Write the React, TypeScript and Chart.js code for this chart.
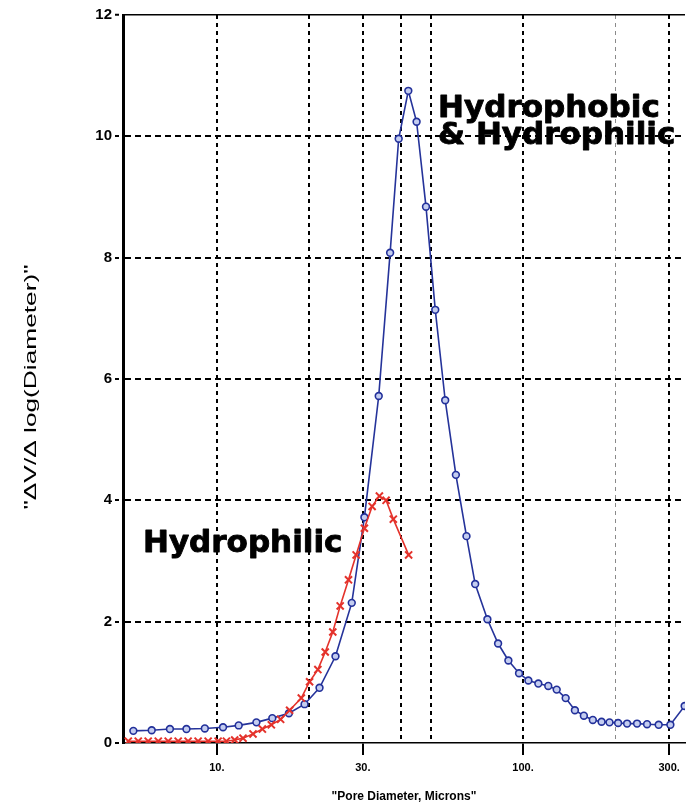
import { useEffect, useRef } from 'react';
import { Chart, registerables } from 'chart.js';

Chart.register(...registerables);

// Pore size distribution, both treatments
const blueDiameter = [
  5.34, 6.13, 7.03, 7.96, 9.14, 10.48, 11.79, 13.47, 15.18, 17.2, 19.35, 21.65, 24.41, 27.59,
  30.34, 33.79, 36.81, 39.26, 42.21, 44.92, 48.21, 51.69, 55.7, 60.36, 65.37, 69.78, 76.5, 82.9,
  89.58, 97.05, 104.1, 112.2, 120.9, 128.8, 137.8, 147.7, 158.0, 169.0, 180.5, 191.6, 204.4,
  218.7, 235.7, 254.1, 277.3, 302.8, 337.1,
];
const blueValue = [
  0.2, 0.21, 0.23, 0.23, 0.24, 0.26, 0.29, 0.34, 0.41, 0.49, 0.64, 0.91, 1.43, 2.31,
  3.72, 5.72, 8.08, 9.96, 10.75, 10.24, 8.84, 7.14, 5.65, 4.42, 3.41, 2.62, 2.04, 1.64,
  1.36, 1.15, 1.03, 0.98, 0.94, 0.88, 0.74, 0.54, 0.45, 0.38, 0.35, 0.34, 0.33,
  0.32, 0.32, 0.31, 0.3, 0.3, 0.61,
];

// Hydrophilic-only distribution
const redDiameter = [
  5.14, 5.54, 5.97, 6.44, 6.94, 7.48, 8.06, 8.69, 9.37, 10.1, 10.75, 11.44, 12.18, 13.13,
  14.09, 15.07, 16.16, 17.29, 18.88, 20.09, 21.38, 22.6, 23.92, 25.29, 26.92, 28.51, 30.34,
  32.15, 33.96, 35.71, 37.71, 42.31,
];
const redValue = [
  0.03, 0.03, 0.03, 0.03, 0.03, 0.03, 0.03, 0.03, 0.03, 0.03, 0.03, 0.05, 0.08, 0.15,
  0.23, 0.3, 0.39, 0.54, 0.74, 1.01, 1.21, 1.5, 1.83, 2.26, 2.69, 3.1, 3.54,
  3.9, 4.07, 4.0, 3.69, 3.1,
];

const xGridValues = [10, 20, 30, 40, 50, 100, 200, 300];
const xLabelValues = [10, 30, 100, 300];
const yTickValues = [0, 2, 4, 6, 8, 10, 12];

const xTitle = '"Pore Diameter, Microns"';
const yTitle = '"\u0394V/\u0394 log(Diameter)"';

// Curve captions, anchored at (diameter, value) of the text baseline start
const captionText = ['Hydrophobic', '& Hydrophilic', 'Hydrophilic'];
const captionX = [52.8, 52.8, 5.74];
const captionY = [10.32, 9.87, 3.15];

const toPoints = (xs: number[], ys: number[]) => xs.map((x, i) => ({ x, y: ys[i] }));

const whiteBackground = {
  id: 'whiteBackground',
  beforeDraw(chart: any) {
    const { ctx, width, height } = chart;
    ctx.save();
    ctx.fillStyle = '#ffffff';
    ctx.fillRect(0, 0, width, height);
    ctx.restore();
  },
};

const captions = {
  id: 'captions',
  afterDatasetsDraw(chart: any) {
    const { ctx, scales } = chart;
    ctx.save();
    ctx.fillStyle = '#000000';
    ctx.strokeStyle = '#000000';
    ctx.lineWidth = 0.9;
    ctx.lineJoin = 'round';
    ctx.font = 'bold 31px "DejaVu Sans"';
    ctx.textAlign = 'left';
    ctx.textBaseline = 'alphabetic';
    captionText.forEach((t, i) => {
      const px = scales.x.getPixelForValue(captionX[i]);
      const py = scales.y.getPixelForValue(captionY[i]);
      ctx.fillText(t, px, py);
      ctx.strokeText(t, px, py);
    });
    ctx.restore();
  },
};

const yAxisTitle = {
  id: 'yAxisTitle',
  afterDraw(chart: any) {
    const { ctx, chartArea } = chart;
    ctx.save();
    ctx.translate(chartArea.left - 92, (chartArea.top + chartArea.bottom) / 2 + 8);
    ctx.rotate(-Math.PI / 2);
    ctx.font = '17px "Liberation Sans"';
    const w = ctx.measureText(yTitle).width;
    ctx.scale(245 / w, 1);
    ctx.fillStyle = '#000000';
    ctx.textAlign = 'center';
    ctx.textBaseline = 'middle';
    ctx.fillText(yTitle, 0, 0);
    ctx.restore();
  },
};

export default function App() {
  const canvasRef = useRef<HTMLCanvasElement | null>(null);

  useEffect(() => {
    document.body.style.margin = '0';
    const canvas = canvasRef.current;
    if (!canvas) return;

    const chart = new Chart(canvas, {
      type: 'scatter',
      data: {
        datasets: [
          {
            label: 'Hydrophilic',
            data: toPoints(redDiameter, redValue),
            showLine: true,
            borderColor: '#e4322b',
            borderWidth: 1.6,
            pointStyle: 'crossRot',
            pointRadius: 5,
            pointBorderWidth: 2,
            pointBorderColor: '#e4322b',
            pointBackgroundColor: '#e4322b',
            tension: 0,
          },
          {
            label: 'Hydrophobic & Hydrophilic',
            data: toPoints(blueDiameter, blueValue),
            showLine: true,
            borderColor: '#25339a',
            borderWidth: 1.6,
            pointStyle: 'circle',
            pointRadius: 3.4,
            pointBorderWidth: 1.6,
            pointBorderColor: '#22309a',
            pointBackgroundColor: '#c4cdf0',
            tension: 0,
          },
        ],
      },
      options: {
        responsive: false,
        animation: false,
        layout: { padding: { top: 15, right: 6, left: 0, bottom: 0 } },
        plugins: {
          legend: { display: false },
          tooltip: { enabled: false },
        },
        scales: {
          x: {
            type: 'logarithmic',
            min: 4.94,
            max: 338,
            afterBuildTicks: (s: any) => {
              s.ticks = xGridValues.map((v) => ({ value: v }));
            },
            afterFit: (s: any) => {
              s.height = 64;
            },
            ticks: {
              autoSkip: false,
              maxRotation: 0,
              minRotation: 0,
              padding: 6,
              color: '#000000',
              font: { family: 'Liberation Sans', weight: 'bold', size: 11 },
              callback: (v: any) => (xLabelValues.includes(Number(v)) ? `${v}.` : ''),
            },
            grid: {
              color: (c: any) => (c.tick && c.tick.value === 200 ? '#8a8a8a' : '#000000'),
              lineWidth: (c: any) => (c.tick && c.tick.value === 200 ? 1 : 2),
              tickLength: 12,
              tickWidth: 2,
              tickColor: (c: any) =>
                c.tick && xLabelValues.includes(c.tick.value) ? '#000000' : 'rgba(0,0,0,0)',
              tickBorderDash: [],
            },
            border: {
              display: true,
              color: '#000000',
              width: 1.5,
              dash: [4, 4],
            },
            title: {
              display: true,
              text: xTitle,
              color: '#000000',
              font: { family: 'Liberation Sans', weight: 'bold', size: 12 },
              padding: { top: 0, bottom: 3 },
            },
          },
          y: {
            type: 'linear',
            min: 0,
            max: 12,
            afterBuildTicks: (s: any) => {
              s.ticks = yTickValues.map((v) => ({ value: v }));
            },
            afterFit: (s: any) => {
              s.width = 123;
            },
            ticks: {
              padding: 3,
              color: '#000000',
              font: { family: 'Liberation Sans', weight: 'bold', size: 15 },
            },
            grid: {
              color: (c: any) => (c.tick && c.tick.value === 0 ? 'rgba(0,0,0,0)' : '#000000'),
              lineWidth: (c: any) => (c.tick && c.tick.value === 12 ? 1.5 : 2),
              tickLength: 8,
              tickWidth: 2,
              tickColor: '#000000',
              tickBorderDash: [4, 3],
            },
            border: {
              display: true,
              color: '#000000',
              width: 3,
              dash: (c: any) => (c.tick && c.tick.value === 12 ? [] : [6, 4]),
            },
          },
        },
      },
      plugins: [whiteBackground, captions, yAxisTitle],
    });

    return () => chart.destroy();
  }, []);

  return (
    <div style={{ width: 692, height: 807 }}>
      <canvas ref={canvasRef} width={692} height={807} style={{ display: 'block' }} />
    </div>
  );
}
